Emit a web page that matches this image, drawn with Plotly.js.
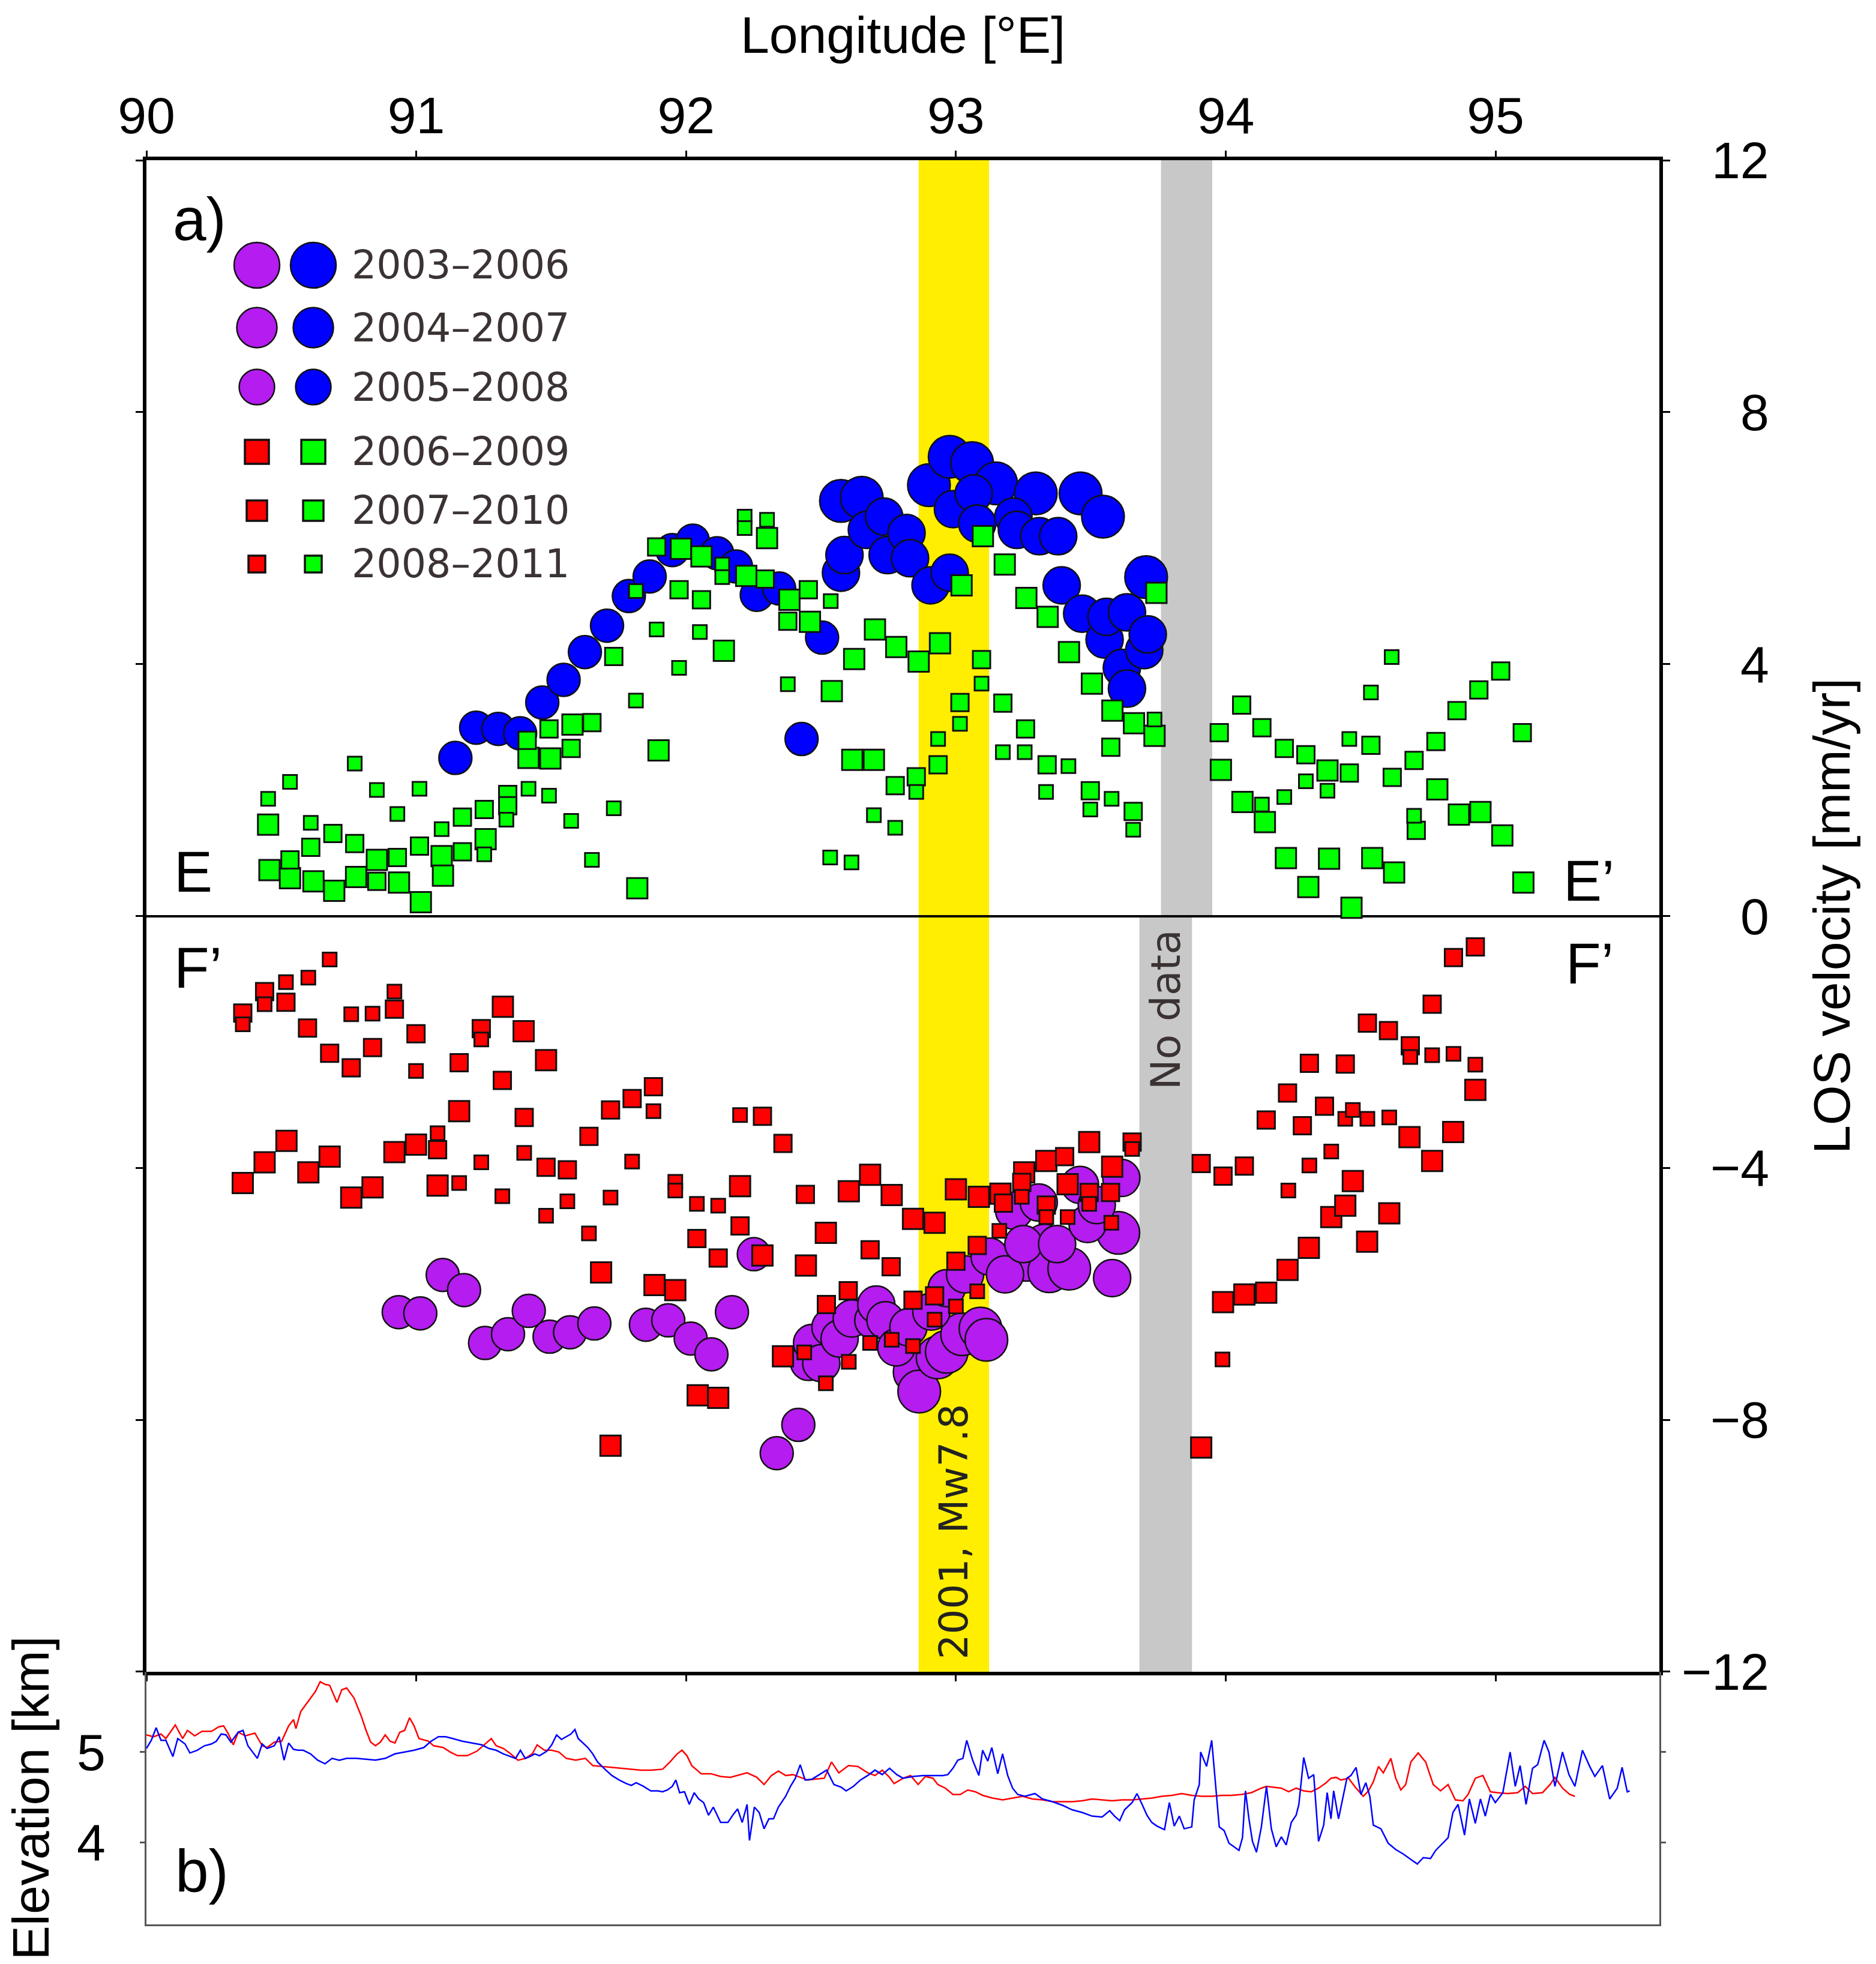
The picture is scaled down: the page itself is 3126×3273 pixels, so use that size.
<!DOCTYPE html>
<html><head><meta charset="utf-8">
<script src="https://cdn.plot.ly/plotly-3.0.1.min.js"></script>
<style>html,body{margin:0;padding:0;background:#fff}</style>
</head><body><div id="chart" style="width:3126px;height:3273px"></div>
<script>
// ---------- tick labels / categories ----------
const lon_ticks = [90, 91, 92, 93, 94, 95];
const los_ticks = [12, 8, 4, 0, -4, -8, -12];
const elev_ticks = [4, 5];
const periods = ['2003–2006', '2004–2007', '2005–2008', '2006–2009', '2007–2010', '2008–2011'];

// ---------- highlighted longitude bands ----------
const rupture_lon = [92.862, 93.123];   // 2001, Mw7.8
const nodata_E_lon = [93.76, 93.95];
const nodata_F_lon = [93.68, 93.875];

// ---------- track E (upper panel): circles 2003-2008 (blue), squares 2006-2011 (green) ----------
const E_0306_lon = [92.574, 92.651, 92.900, 92.977, 93.060, 93.149, 93.296, 93.462, 93.545, 93.705];
const E_0306_vel = [6.59, 6.64, 6.84, 7.29, 7.19, 6.87, 6.71, 6.71, 6.34, 5.38];
const E_0407_lon = [92.574, 92.587, 92.670, 92.734, 92.747, 92.817, 92.830, 92.906, 92.977, 92.989, 93.066, 93.079, 93.213, 93.226, 93.309, 93.379, 93.392, 93.468, 93.551, 93.558, 93.615, 93.634, 93.634, 93.698, 93.711];
const E_0407_vel = [5.45, 5.73, 6.13, 6.34, 5.73, 6.08, 5.68, 5.25, 5.45, 6.46, 6.71, 6.23, 6.34, 6.13, 6.03, 6.03, 5.25, 4.80, 4.39, 4.75, 3.94, 4.82, 3.61, 4.22, 4.47];
const E_0508_lon = [91.145, 91.222, 91.304, 91.385, 91.467, 91.546, 91.625, 91.707, 91.788, 91.865, 91.949, 92.025, 92.115, 92.185, 92.262, 92.345, 92.428, 92.504];
const E_0508_vel = [2.51, 2.99, 2.97, 2.90, 3.39, 3.75, 4.19, 4.61, 5.08, 5.39, 5.81, 5.96, 5.76, 5.55, 5.10, 5.20, 2.81, 4.42];

const E_0609_lon = [90.451, 90.456, 90.532, 90.619, 90.696, 90.777, 90.854, 90.936, 91.017, 91.094, 91.099, 91.257, 91.416, 91.497, 91.579, 91.819, 91.898, 91.981, 92.057, 92.140, 92.223, 92.300, 92.383, 92.459, 92.540, 92.616, 92.623, 92.696, 92.700, 92.779, 92.862, 92.941, 93.021, 93.100, 93.181, 93.261, 93.340, 93.419, 93.504, 93.580, 93.660, 93.736, 93.743, 93.982, 94.062, 94.145, 94.223, 94.306, 94.377, 94.383, 94.466, 94.543, 94.624, 94.784, 94.864, 94.944, 95.025, 95.103];
const E_0609_vel = [1.45, 0.73, 0.60, 0.55, 0.40, 0.62, 0.89, 0.53, 0.22, 0.95, 0.64, 1.22, 2.51, 2.50, 3.04, 0.44, 2.63, 5.83, 5.71, 4.21, 5.40, 6.00, 5.02, 4.67, 3.57, 2.48, 4.08, 2.48, 4.55, 4.27, 4.04, 4.33, 5.25, 6.03, 5.58, 5.05, 4.75, 4.19, 3.69, 3.26, 3.06, 2.86, 5.13, 2.32, 1.81, 1.49, 0.92, 0.46, 2.31, 0.91, 0.13, 0.92, 0.69, 2.01, 1.61, 1.65, 1.28, 0.53];
const E_0710_lon = [90.532, 90.609, 90.691, 90.772, 90.854, 90.930, 91.012, 91.171, 91.171, 91.252, 91.339, 91.339, 91.411, 91.492, 91.574, 91.651, 91.732, 91.891, 91.974, 92.057, 92.293, 92.377, 92.453, 92.775, 92.853, 92.934, 93.015, 93.095, 93.174, 93.258, 93.338, 93.498, 93.574, 93.657, 93.976, 94.059, 94.134, 94.217, 94.297, 94.458, 94.538, 94.617, 94.698, 94.706, 94.779, 94.857, 94.938, 95.019, 95.099];
const E_0710_vel = [0.89, 1.09, 1.31, 1.15, 0.55, 0.93, 1.11, 1.57, 1.02, 1.69, 1.93, 1.75, 2.79, 2.97, 2.66, 3.07, 4.12, 5.86, 5.18, 5.02, 5.35, 4.68, 5.18, 2.07, 2.21, 2.40, 3.39, 4.07, 3.38, 2.97, 2.40, 1.99, 2.68, 1.66, 2.91, 3.35, 2.99, 2.66, 2.56, 2.27, 2.71, 2.20, 2.47, 1.36, 2.77, 3.26, 3.59, 3.89, 2.91];
const E_0811_lon = [90.451, 90.532, 90.609, 90.772, 90.854, 90.930, 91.012, 91.094, 91.252, 91.334, 91.416, 91.492, 91.574, 91.651, 91.732, 91.814, 91.814, 91.891, 91.974, 92.051, 92.134, 92.134, 92.217, 92.217, 92.300, 92.377, 92.534, 92.536, 92.613, 92.696, 92.775, 92.853, 92.934, 93.015, 93.095, 93.174, 93.255, 93.334, 93.417, 93.498, 93.577, 93.657, 93.736, 94.134, 94.217, 94.297, 94.377, 94.458, 94.538, 94.615, 94.698];
const E_0811_vel = [1.86, 2.13, 1.48, 2.42, 2.00, 1.62, 2.02, 1.38, 0.98, 1.53, 2.02, 1.91, 1.51, 0.89, 1.71, 5.16, 3.42, 4.55, 3.94, 4.51, 5.58, 5.38, 6.34, 6.16, 6.29, 3.68, 0.93, 5.00, 0.85, 1.60, 1.40, 1.97, 2.81, 3.05, 3.69, 2.60, 2.60, 1.97, 2.38, 1.69, 1.86, 1.37, 3.12, 1.77, 1.89, 2.14, 1.99, 2.81, 3.55, 4.11, 1.59];

// ---------- track F (lower panel): circles 2003-2008 (purple), squares 2006-2011 (red) ----------
const F_0306_lon = [92.847, 92.864, 92.932, 92.966, 93.023, 93.091, 93.113, 93.261, 93.329, 93.346, 93.420, 93.602];
const F_0306_vel = [-7.24, -7.55, -7.01, -6.92, -6.64, -6.55, -6.73, -5.46, -5.23, -5.64, -5.60, -5.03];
const F_0407_lon = [92.455, 92.467, 92.501, 92.535, 92.569, 92.614, 92.694, 92.705, 92.739, 92.779, 92.824, 92.909, 92.966, 93.034, 93.125, 93.182, 93.216, 93.250, 93.307, 93.375, 93.460, 93.488, 93.522, 93.579, 93.613];
const F_0407_vel = [-7.08, -6.78, -7.10, -6.53, -6.71, -6.39, -6.42, -6.17, -6.42, -6.85, -6.53, -6.28, -5.91, -5.69, -5.41, -5.69, -4.68, -5.21, -4.55, -5.21, -4.27, -4.89, -4.59, -5.75, -4.16];
const F_0508_lon = [90.935, 91.015, 91.098, 91.177, 91.255, 91.340, 91.417, 91.494, 91.570, 91.660, 91.851, 91.934, 92.017, 92.094, 92.170, 92.251, 92.336, 92.416];
const F_0508_vel = [-6.29, -6.31, -5.70, -5.94, -6.78, -6.64, -6.27, -6.68, -6.61, -6.47, -6.49, -6.42, -6.71, -6.96, -6.29, -5.37, -8.53, -8.08];

const F_0609_lon = [90.357, 90.438, 90.519, 90.600, 90.679, 90.759, 90.838, 90.919, 90.999, 91.079, 91.159, 91.321, 91.398, 91.481, 91.685, 91.720, 91.883, 91.960, 92.043, 92.119, 92.200, 92.283, 92.359, 92.444, 92.518, 92.603, 92.682, 92.762, 92.841, 92.921, 93.000, 93.085, 93.165, 93.253, 93.335, 93.414, 93.494, 93.579, 93.909, 93.990, 94.069, 94.150, 94.229, 94.308, 94.391, 94.443, 94.471, 94.524, 94.606, 94.681, 94.765, 94.843, 94.925];
const F_0609_vel = [-4.24, -3.91, -3.57, -4.07, -3.82, -4.47, -4.31, -3.75, -3.63, -4.28, -3.10, -1.44, -1.83, -2.29, -5.66, -8.41, -5.86, -5.94, -7.61, -7.65, -4.29, -5.39, -6.99, -5.55, -5.03, -4.37, -4.11, -4.43, -4.81, -4.87, -4.34, -4.46, -4.41, -4.07, -3.89, -4.26, -3.59, -3.98, -8.44, -6.13, -6.01, -5.98, -5.62, -5.27, -4.78, -4.60, -4.21, -5.17, -4.72, -3.51, -3.89, -3.43, -2.76];
const F_0710_lon = [90.357, 90.438, 90.517, 90.597, 90.679, 90.759, 90.838, 90.919, 90.999, 91.079, 91.159, 91.241, 91.319, 91.400, 91.481, 91.560, 91.640, 91.720, 91.800, 91.879, 92.040, 92.119, 92.200, 92.283, 92.359, 92.442, 92.520, 92.601, 92.682, 92.760, 92.841, 92.921, 93.000, 93.079, 93.176, 93.244, 93.335, 93.403, 93.494, 93.573, 93.653, 93.909, 93.990, 94.069, 94.150, 94.229, 94.284, 94.310, 94.366, 94.443, 94.525, 94.603, 94.684, 94.765, 94.844, 94.925];
const F_0710_vel = [-1.54, -1.20, -1.37, -1.78, -2.18, -2.41, -2.09, -1.48, -1.87, -3.71, -2.33, -1.79, -2.61, -3.20, -3.99, -4.03, -3.50, -3.08, -2.90, -2.71, -5.12, -5.43, -4.92, -3.18, -3.61, -4.42, -6.17, -5.95, -5.30, -5.57, -6.10, -6.03, -5.48, -5.23, -4.56, -4.23, -4.59, -3.82, -4.39, -4.39, -3.59, -3.93, -4.13, -3.97, -3.24, -2.81, -3.33, -2.34, -3.02, -2.35, -1.70, -1.82, -2.06, -1.40, -0.66, -0.49];
const F_0811_lon = [90.357, 90.438, 90.517, 90.600, 90.679, 90.759, 90.838, 90.919, 90.999, 91.079, 91.159, 91.241, 91.241, 91.319, 91.400, 91.481, 91.560, 91.640, 91.720, 91.800, 91.879, 91.960, 91.960, 92.040, 92.119, 92.200, 92.438, 92.518, 92.603, 92.682, 92.762, 92.841, 92.921, 93.000, 93.079, 93.161, 93.244, 93.335, 93.414, 93.494, 93.576, 93.653, 93.988, 94.232, 94.310, 94.391, 94.443, 94.471, 94.525, 94.606, 94.684, 94.765, 94.844, 94.925];
const F_0811_vel = [-1.72, -1.40, -1.05, -0.98, -0.69, -1.56, -1.55, -1.20, -2.46, -3.45, -4.24, -1.96, -3.91, -4.45, -3.76, -4.76, -4.53, -5.04, -4.47, -3.90, -3.10, -4.22, -4.36, -4.57, -4.60, -3.16, -6.93, -7.42, -7.08, -6.78, -6.73, -6.83, -6.41, -6.20, -5.96, -5.00, -4.46, -4.78, -4.78, -4.57, -4.87, -3.70, -7.04, -4.36, -3.96, -3.74, -3.22, -3.08, -3.22, -3.20, -2.24, -2.21, -2.19, -2.36];

// ---------- elevation profiles (panel b) ----------
const elevF_lon = [90.000, 90.027, 90.054, 90.072, 90.107, 90.134, 90.152, 90.179, 90.206, 90.241, 90.268, 90.286, 90.304, 90.322, 90.340, 90.367, 90.402, 90.429, 90.447, 90.474, 90.501, 90.527, 90.545, 90.554, 90.572, 90.599, 90.626, 90.644, 90.662, 90.679, 90.697, 90.706, 90.724, 90.742, 90.769, 90.796, 90.814, 90.831, 90.849, 90.867, 90.885, 90.903, 90.921, 90.939, 90.957, 90.975, 90.992, 91.010, 91.046, 91.064, 91.100, 91.126, 91.153, 91.189, 91.225, 91.252, 91.278, 91.296, 91.323, 91.350, 91.377, 91.404, 91.430, 91.448, 91.475, 91.502, 91.529, 91.556, 91.591, 91.627, 91.654, 91.690, 91.725, 91.761, 91.797, 91.833, 91.869, 91.913, 91.940, 91.967, 91.985, 92.003, 92.021, 92.056, 92.092, 92.128, 92.164, 92.199, 92.226, 92.262, 92.289, 92.316, 92.342, 92.369, 92.396, 92.423, 92.450, 92.476, 92.512, 92.539, 92.566, 92.602, 92.637, 92.673, 92.700, 92.727, 92.754, 92.771,
  92.804, 92.832, 92.860, 92.887, 92.915, 92.933, 92.961, 92.989, 93.016, 93.044, 93.072, 93.099, 93.136, 93.173, 93.210, 93.247, 93.284, 93.321, 93.358, 93.395, 93.431, 93.468, 93.505, 93.542, 93.579, 93.616, 93.653, 93.690, 93.726, 93.763, 93.800, 93.837, 93.874, 93.911, 93.948, 93.985, 94.021, 94.058, 94.095, 94.132, 94.151, 94.178, 94.206, 94.233, 94.261, 94.289, 94.317, 94.344, 94.372, 94.390, 94.409, 94.427, 94.455, 94.483, 94.510, 94.529, 94.547, 94.566, 94.584, 94.612, 94.630, 94.649, 94.667, 94.686, 94.713, 94.741, 94.769, 94.796, 94.824, 94.851, 94.879, 94.898, 94.925, 94.953, 94.981, 95.008, 95.045, 95.082, 95.110, 95.137, 95.174, 95.202, 95.220, 95.248, 95.275, 95.294];
const elevF_km = [5.19, 5.17, 5.20, 5.15, 5.30, 5.15, 5.24, 5.18, 5.23, 5.23, 5.28, 5.29, 5.20, 5.08, 5.22, 5.18, 5.21, 5.07, 5.05, 5.11, 5.12, 5.29, 5.36, 5.26, 5.45, 5.56, 5.67, 5.78, 5.75, 5.74, 5.62, 5.55, 5.69, 5.71, 5.60, 5.40, 5.24, 5.11, 5.07, 5.11, 5.19, 5.12, 5.10, 5.22, 5.24, 5.38, 5.29, 5.15, 5.12, 5.07, 5.05, 5.00, 4.96, 4.96, 5.01, 5.08, 5.15, 5.07, 5.04, 4.98, 4.91, 4.93, 4.98, 5.08, 5.02, 5.02, 5.00, 4.93, 4.91, 4.93, 4.85, 4.84, 4.83, 4.82, 4.81, 4.80, 4.80, 4.81, 4.89, 4.98, 5.02, 4.96, 4.85, 4.76, 4.76, 4.73, 4.72, 4.75, 4.77, 4.72, 4.64, 4.74, 4.79, 4.74, 4.75, 4.72, 4.69, 4.70, 4.71, 4.89, 4.77, 4.85, 4.84, 4.77, 4.74, 4.80, 4.72, 4.65,
  4.71, 4.74, 4.64, 4.73, 4.71, 4.64, 4.60, 4.53, 4.53, 4.58, 4.56, 4.52, 4.49, 4.47, 4.49, 4.51, 4.48, 4.47, 4.45, 4.45, 4.45, 4.46, 4.48, 4.47, 4.46, 4.47, 4.47, 4.48, 4.49, 4.51, 4.52, 4.54, 4.52, 4.51, 4.51, 4.52, 4.52, 4.53, 4.55, 4.60, 4.62, 4.61, 4.60, 4.56, 4.60, 4.57, 4.56, 4.60, 4.66, 4.71, 4.72, 4.69, 4.71, 4.60, 4.51, 4.57, 4.67, 4.84, 4.77, 4.93, 4.71, 4.58, 4.64, 4.89, 4.99, 4.89, 4.64, 4.57, 4.64, 4.47, 4.46, 4.53, 4.71, 4.74, 4.56, 4.55, 4.54, 4.55, 4.62, 4.54, 4.55, 4.64, 4.72, 4.60, 4.53, 4.51];
const elevE_lon = [90.000, 90.018, 90.036, 90.054, 90.072, 90.098, 90.116, 90.143, 90.161, 90.188, 90.215, 90.241, 90.259, 90.277, 90.295, 90.313, 90.340, 90.358, 90.376, 90.393, 90.411, 90.429, 90.447, 90.474, 90.492, 90.510, 90.527, 90.545, 90.563, 90.581, 90.608, 90.635, 90.662, 90.688, 90.715, 90.742, 90.778, 90.814, 90.849, 90.885, 90.921, 90.957, 90.992, 91.028, 91.055, 91.082, 91.109, 91.135, 91.171, 91.207, 91.243, 91.269, 91.296, 91.323, 91.350, 91.368, 91.386, 91.404, 91.421, 91.439, 91.457, 91.484, 91.502, 91.520, 91.538, 91.556, 91.573, 91.588, 91.600, 91.618, 91.636, 91.654, 91.672, 91.699, 91.725, 91.752, 91.779, 91.797, 91.815, 91.842, 91.869, 91.895, 91.913, 91.931, 91.949, 91.962, 91.976, 91.994, 92.012, 92.030, 92.047, 92.065, 92.083, 92.101, 92.128, 92.155, 92.173, 92.191, 92.208, 92.226, 92.235, 92.253, 92.271, 92.289, 92.307, 92.324, 92.342, 92.369, 92.387, 92.405, 92.423, 92.441, 92.467, 92.494, 92.521, 92.548, 92.575, 92.593, 92.620, 92.646, 92.673, 92.700, 92.727, 92.754, 92.781,
  92.804, 92.841, 92.878, 92.915, 92.952, 92.970, 92.989, 93.007, 93.026, 93.040, 93.062, 93.085, 93.099, 93.118, 93.133, 93.155, 93.173, 93.192, 93.210, 93.229, 93.256, 93.293, 93.321, 93.358, 93.395, 93.431, 93.468, 93.505, 93.542, 93.570, 93.588, 93.607, 93.625, 93.653, 93.671, 93.690, 93.708, 93.726, 93.745, 93.773, 93.791, 93.809, 93.828, 93.846, 93.874, 93.883, 93.902, 93.907, 93.929, 93.948, 93.966, 93.976, 93.994, 94.012, 94.031, 94.049, 94.062, 94.073, 94.086, 94.099, 94.114, 94.132, 94.151, 94.169, 94.187, 94.206, 94.224, 94.243, 94.261, 94.271, 94.289, 94.307, 94.326, 94.344, 94.363, 94.376, 94.390, 94.400, 94.418, 94.436, 94.449, 94.464, 94.483, 94.501, 94.519, 94.534, 94.547, 94.575, 94.602, 94.630, 94.658, 94.686, 94.710, 94.732, 94.759, 94.778, 94.805, 94.824, 94.842, 94.861, 94.885, 94.903, 94.925, 94.944, 94.962, 94.981, 94.999, 95.027, 95.054, 95.073, 95.091, 95.113, 95.137, 95.156, 95.180, 95.198, 95.220, 95.248, 95.272, 95.294, 95.322, 95.349, 95.368, 95.396, 95.423, 95.451, 95.469, 95.488, 95.497];
const elevE_km = [5.04, 5.13, 5.27, 5.13, 5.13, 4.95, 5.15, 5.09, 4.99, 5.02, 5.07, 5.09, 5.12, 5.20, 5.19, 5.11, 5.22, 5.24, 5.07, 5.00, 4.93, 5.09, 5.04, 5.07, 5.17, 4.91, 5.10, 5.03, 5.02, 5.02, 4.98, 4.91, 4.87, 4.93, 4.91, 4.93, 4.93, 4.92, 4.91, 4.93, 4.98, 5.00, 5.02, 5.05, 5.12, 5.17, 5.17, 5.15, 5.12, 5.10, 5.08, 5.04, 5.02, 4.98, 4.95, 4.93, 5.02, 4.93, 4.95, 4.98, 4.96, 5.01, 5.08, 5.19, 5.14, 5.17, 5.20, 5.25, 5.15, 5.10, 5.05, 4.98, 4.89, 4.81, 4.74, 4.69, 4.65, 4.63, 4.66, 4.62, 4.57, 4.57, 4.56, 4.58, 4.62, 4.69, 4.55, 4.56, 4.42, 4.55, 4.48, 4.44, 4.30, 4.39, 4.22, 4.22, 4.30, 4.37, 4.22, 4.42, 4.02, 4.39, 4.33, 4.15, 4.26, 4.26, 4.39, 4.51, 4.62, 4.71, 4.86, 4.69, 4.70, 4.75, 4.80, 4.64, 4.61, 4.57, 4.62, 4.69, 4.74, 4.80, 4.75, 4.82, 4.75,
  4.71, 4.73, 4.74, 4.74, 4.74, 4.75, 4.82, 4.91, 4.93, 5.13, 4.91, 4.74, 5.02, 4.90, 5.05, 4.76, 4.98, 4.74, 4.60, 4.53, 4.51, 4.54, 4.48, 4.45, 4.41, 4.36, 4.33, 4.29, 4.28, 4.35, 4.29, 4.24, 4.36, 4.44, 4.54, 4.42, 4.30, 4.22, 4.18, 4.14, 4.44, 4.18, 4.29, 4.15, 4.17, 4.47, 4.64, 5.00, 4.84, 5.13, 4.53, 4.17, 4.13, 3.99, 3.95, 3.91, 4.05, 4.57, 4.26, 4.01, 3.89, 4.17, 4.62, 4.15, 3.95, 4.06, 3.97, 4.22, 4.30, 4.42, 4.94, 4.71, 4.75, 4.01, 4.19, 4.55, 4.26, 4.57, 4.26, 4.53, 4.71, 4.74, 4.83, 4.53, 4.66, 4.51, 4.19, 4.15, 3.99, 3.92, 3.87, 3.81, 3.76, 3.83, 3.82, 3.91, 3.99, 4.05, 4.33, 4.42, 4.08, 4.48, 4.21, 4.48, 4.29, 4.53, 4.44, 4.55, 5.00, 4.62, 4.85, 4.42, 4.82, 4.86, 5.13, 5.00, 4.62, 5.00, 4.75, 4.62, 5.02, 4.84, 4.73, 4.85, 4.48, 4.60, 4.83, 4.56, 4.57];

// ---------- styles ----------
const ARIAL = 'Liberation Sans, Arial, Helvetica, sans-serif';
const DEJAVU = 'DejaVu Sans, Verdana, sans-serif';
const C_PURPLE = '#b41cf0', C_BLUE = '#0000ff', C_RED = '#ff0000', C_GREEN = '#00ff00';
const CIRCLE_SIZE = [71, 62, 55];   // 2003-06, 2004-07, 2005-08
const SQUARE_SIZE = [34, 29, 23];   // 2006-09, 2007-10, 2008-11

function pts(lon, vel, color, symbol, size, lw) {
  return {type: 'scatter', mode: 'markers', x: lon, y: vel, xaxis: 'x', yaxis: 'y',
    hoverinfo: 'x+y', cliponaxis: true,
    marker: {color: color, symbol: symbol, size: size, line: {color: '#111', width: lw}}};
}

const traces = [
  pts(F_0306_lon, F_0306_vel, C_PURPLE, 'circle', CIRCLE_SIZE[0], 2.5),
  pts(F_0407_lon, F_0407_vel, C_PURPLE, 'circle', CIRCLE_SIZE[1], 2.5),
  pts(F_0508_lon, F_0508_vel, C_PURPLE, 'circle', CIRCLE_SIZE[2], 2.5),
  pts(E_0306_lon, E_0306_vel, C_BLUE, 'circle', CIRCLE_SIZE[0], 2.5),
  pts(E_0407_lon, E_0407_vel, C_BLUE, 'circle', CIRCLE_SIZE[1], 2.5),
  pts(E_0508_lon, E_0508_vel, C_BLUE, 'circle', CIRCLE_SIZE[2], 2.5),
  pts(F_0609_lon, F_0609_vel, C_RED, 'square', SQUARE_SIZE[0], 3),
  pts(F_0710_lon, F_0710_vel, C_RED, 'square', SQUARE_SIZE[1], 3),
  pts(F_0811_lon, F_0811_vel, C_RED, 'square', SQUARE_SIZE[2], 3),
  pts(E_0609_lon, E_0609_vel, C_GREEN, 'square', SQUARE_SIZE[0], 3),
  pts(E_0710_lon, E_0710_vel, C_GREEN, 'square', SQUARE_SIZE[1], 3),
  pts(E_0811_lon, E_0811_vel, C_GREEN, 'square', SQUARE_SIZE[2], 3),
  {type: 'scatter', mode: 'lines', x: elevF_lon, y: elevF_km, xaxis: 'x2', yaxis: 'y2',
   line: {color: C_RED, width: 2.5}},
  {type: 'scatter', mode: 'lines', x: elevE_lon, y: elevE_km, xaxis: 'x2', yaxis: 'y2',
   line: {color: C_BLUE, width: 2.5}}
];

// ---------- layout helpers ----------
const MAIN_DOMAIN = [0.1432, 1];
const shapes = [
  {type: 'rect', xref: 'x', yref: 'paper', x0: rupture_lon[0], x1: rupture_lon[1], y0: MAIN_DOMAIN[0], y1: MAIN_DOMAIN[1],
   fillcolor: '#ffee00', line: {width: 0}, layer: 'below'},
  {type: 'rect', xref: 'x', yref: 'y', x0: nodata_E_lon[0], x1: nodata_E_lon[1], y0: 0, y1: 12,
   fillcolor: '#c8c8c8', line: {width: 0}, layer: 'below'},
  {type: 'rect', xref: 'x', yref: 'y', x0: nodata_F_lon[0], x1: nodata_F_lon[1], y0: -12, y1: 0,
   fillcolor: '#c8c8c8', line: {width: 0}, layer: 'below'}
];

// custom legend (two symbols per period)
const LEG_COL_X = [0.0730, 0.1103];
const LEG_TEXT_X = 0.1349;
const LEG_ROW_Y = [0.9405, 0.9051, 0.8714, 0.8347, 0.8014, 0.7711];
const LEG_HALF = [38, 33.5, 29.5, 20, 17, 14];
const annotations = [];
periods.forEach((p, i) => {
  const isCircle = i < 3;
  const cols = isCircle ? [C_PURPLE, C_BLUE] : [C_RED, C_GREEN];
  cols.forEach((c, j) => {
    const h = LEG_HALF[i];
    shapes.push({type: isCircle ? 'circle' : 'rect', xref: 'paper', yref: 'paper',
      xsizemode: 'pixel', ysizemode: 'pixel', xanchor: LEG_COL_X[j], yanchor: LEG_ROW_Y[i],
      x0: -h, x1: h, y0: -h, y1: h, fillcolor: c,
      line: {color: '#111', width: isCircle ? 2.5 : 3.5}, layer: 'above'});
  });
  annotations.push({xref: 'paper', yref: 'paper', x: LEG_TEXT_X, y: LEG_ROW_Y[i], xanchor: 'left', yanchor: 'middle',
    text: p, showarrow: false, font: {family: DEJAVU, size: 65, color: '#3b3333'}});
});

// right-hand tick labels of LOS velocity (right aligned)
los_ticks.forEach(v => annotations.push({xref: 'paper', yref: 'y', x: 1.0734, y: v, xanchor: 'right', yanchor: 'middle',
  text: v < 0 ? '\u2212' + Math.abs(v) : String(v), showarrow: false, font: {family: ARIAL, size: 86, color: '#000'}}));

function label(text, x, y, size, xanchor) {
  annotations.push({xref: 'paper', yref: 'paper', x: x, y: y, xanchor: xanchor || 'left', yanchor: 'middle',
    text: text, showarrow: false, font: {family: ARIAL, size: size, color: '#000'}});
}
label('a)', 0.0167, 0.9667, 100);
label('E', 0.0175, 0.5966, 96);
label('E\u2019', 0.9358, 0.5918, 96);
label('F\u2019', 0.0175, 0.5425, 96);
label('F\u2019', 0.9373, 0.5446, 96);
label('b)', 0.0182, 0.0303, 100);

annotations.push({xref: 'x', yref: 'y', x: (nodata_F_lon[0] + nodata_F_lon[1]) / 2, y: -1.49, textangle: -90,
  text: 'No data', showarrow: false, font: {family: DEJAVU, size: 68, color: '#3b3333'}});
annotations.push({xref: 'x', yref: 'y', x: (rupture_lon[0] + rupture_lon[1]) / 2, y: -9.77, textangle: -90,
  text: '2001, Mw7.8', showarrow: false, font: {family: DEJAVU, size: 66, color: '#222'}});

const layout = {
  width: 3126, height: 3273,
  margin: {l: 244, r: 361, t: 267, b: 66, pad: 0},
  paper_bgcolor: '#fff', plot_bgcolor: '#fff',
  showlegend: false,
  font: {family: ARIAL, size: 86, color: '#000'},
  xaxis: {domain: [0, 1], range: [90, 95.607], anchor: 'y', side: 'top',
    tickvals: lon_ticks, ticks: 'outside', ticklen: 10, tickwidth: 3, tickcolor: '#000',
    ticklabelstandoff: -5,
    showline: true, linewidth: 6, linecolor: '#000', mirror: 'ticks',
    showgrid: false, zeroline: false, tickfont: {family: ARIAL, size: 86},
    title: {text: 'Longitude [°E]', font: {family: ARIAL, size: 86}, standoff: 28}},
  yaxis: {domain: MAIN_DOMAIN, range: [-12, 12], anchor: 'x', side: 'right',
    tickvals: los_ticks, showticklabels: false, ticks: 'outside', ticklen: 12, tickwidth: 3, tickcolor: '#000',
    showline: true, linewidth: 6, linecolor: '#000', mirror: 'ticks',
    showgrid: false, zeroline: true, zerolinecolor: '#000', zerolinewidth: 4,
    title: {text: 'LOS velocity [mm/yr]', font: {family: ARIAL, size: 86}, standoff: 242}},
  xaxis2: {domain: [0, 1], range: [90, 95.607], anchor: 'y2', side: 'bottom',
    showticklabels: false, ticks: '', showline: true, linewidth: 3, linecolor: '#555',
    showgrid: false, zeroline: false},
  yaxis2: {domain: [0, MAIN_DOMAIN[0]], range: [3.09, 5.89], anchor: 'x2', side: 'left',
    tickvals: elev_ticks, ticks: 'outside', ticklen: 8, tickwidth: 3, tickcolor: '#555',
    ticklabelstandoff: 40,
    showline: true, linewidth: 3, linecolor: '#555', mirror: 'ticks',
    showgrid: false, zeroline: false, tickfont: {family: ARIAL, size: 86},
    title: {text: 'Elevation [km]', font: {family: ARIAL, size: 86}, standoff: 18}},
  shapes: shapes,
  annotations: annotations
};

Plotly.newPlot('chart', traces, layout, {staticPlot: true, displayModeBar: false});
</script></body></html>
